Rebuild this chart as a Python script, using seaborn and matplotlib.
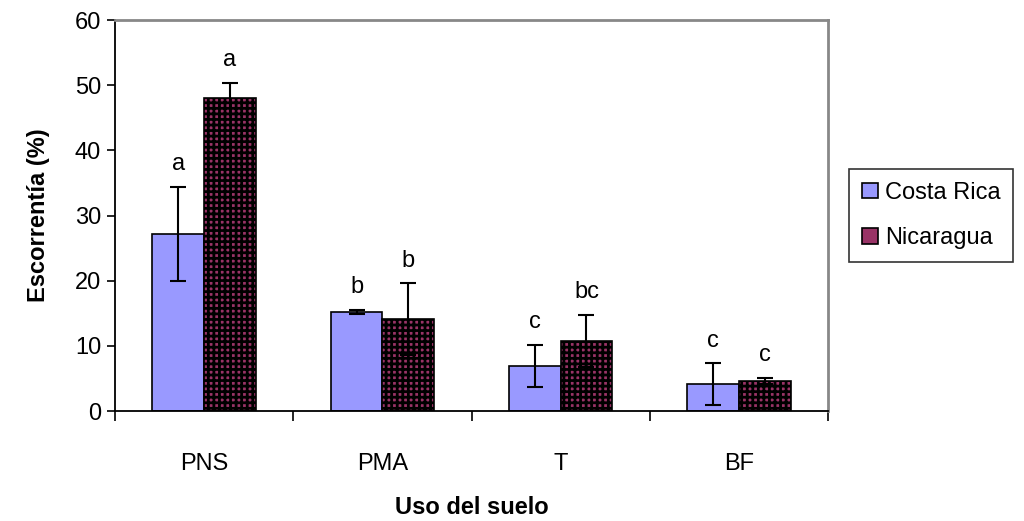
import pandas as pd
import numpy as np
import matplotlib
matplotlib.use("Agg")
import matplotlib.pyplot as plt
import seaborn as sns

uses = ["PNS", "PMA", "T", "BF"]
series = ["Costa Rica", "Nicaragua"]
costa_rica = [27.2, 15.2, 6.9, 4.1]
nicaragua = [48.0, 14.1, 10.8, 4.6]
err_costa_rica = [7.2, 0.3, 3.2, 3.2]
err_nicaragua = [2.4, 5.5, 4.0, 0.5]
letters_costa_rica = ["a", "b", "c", "c"]
letters_nicaragua = ["a", "b", "bc", "c"]

sns.set_theme(style="white")
plt.rcParams["font.family"] = ["Liberation Sans", "DejaVu Sans"]
plt.rcParams["hatch.linewidth"] = 2.0
plt.rcParams["text.color"] = "black"
plt.rcParams["axes.labelcolor"] = "black"
plt.rcParams["xtick.color"] = "black"
plt.rcParams["ytick.color"] = "black"

df = pd.DataFrame({
    "Uso": uses * 2,
    "Pais": [series[0]] * 4 + [series[1]] * 4,
    "Escorrentia": costa_rica + nicaragua,
})

fig = plt.figure(figsize=(10.24, 5.21), dpi=100)
ax = fig.add_axes([0.1123, 0.2111, 0.6963, 0.7505])

sns.barplot(data=df, x="Uso", y="Escorrentia", hue="Pais", order=uses,
            hue_order=series, palette=["#9999FF", "#993366"], width=0.58,
            errorbar=None, edgecolor="black", linewidth=1.2, saturation=1,
            ax=ax)

# bars of the second series get the checkered look
n = len(uses)
for p in ax.patches[n:2 * n]:
    p.set_hatch("+++")

errs = [err_costa_rica, err_nicaragua]
labs = [letters_costa_rica, letters_nicaragua]
vals = [costa_rica, nicaragua]
for s in range(2):
    bars = ax.patches[s * n:(s + 1) * n]
    xs = [b.get_x() + b.get_width() / 2 for b in bars]
    ax.errorbar(xs, vals[s], yerr=errs[s], fmt="none", ecolor="black",
                elinewidth=1.5, capsize=6, capthick=1.5, zorder=5)
    for x, v, e, t in zip(xs, vals[s], errs[s], labs[s]):
        ax.text(x, v + e + 1.8, t, ha="center", va="bottom", fontsize=17)

ax.set_ylim(0, 60)
ax.set_xlim(-0.5, 3.5)
ax.set_yticks(range(0, 61, 10))
ax.tick_params(axis="y", which="both", left=True, length=6, width=1.2,
               labelsize=17, color="black", pad=4)
ax.set_xticks(np.arange(n))
ax.set_xticklabels(uses, fontsize=17)
ax.tick_params(axis="x", length=0, pad=30)
ax.set_xticks(np.arange(n + 1) - 0.5, minor=True)
ax.tick_params(axis="x", which="minor", bottom=True, length=7, width=1.2,
               color="black", direction="out")

ax.set_ylabel("Escorrentía (%)", fontsize=17, fontweight="bold", labelpad=18)
ax.set_xlabel("Uso del suelo", fontsize=17, fontweight="bold", labelpad=15)

for side in ["left", "bottom"]:
    ax.spines[side].set_color("black")
    ax.spines[side].set_linewidth(1.3)
for side in ["top", "right"]:
    ax.spines[side].set_color("#888888")
    ax.spines[side].set_linewidth(2)

leg = ax.legend(loc="center left", bbox_to_anchor=(1.03, 0.5), fontsize=17,
                frameon=True, fancybox=False, edgecolor="black",
                handlelength=0.65, handleheight=0.65, handletextpad=0.3,
                labelspacing=1.0, borderpad=0.55, borderaxespad=0)
leg.get_frame().set_linewidth(1.2)

fig.savefig("out.png", dpi=100)
